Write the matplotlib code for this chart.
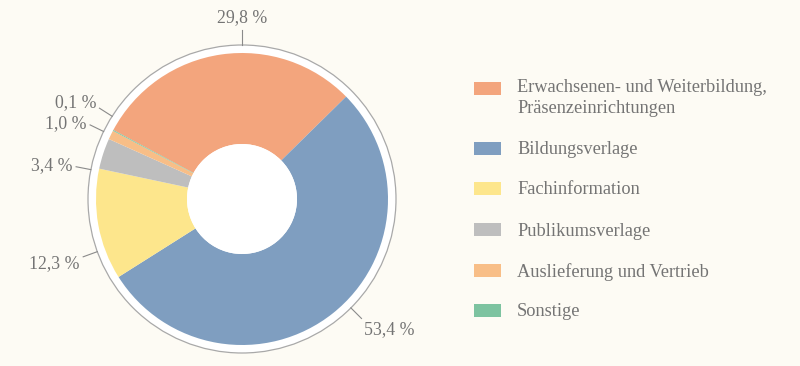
import matplotlib
matplotlib.use("Agg")
import matplotlib.pyplot as plt
from matplotlib.patches import Circle, Rectangle
import numpy as np

categories = ["Erwachsenen- und Weiterbildung,\nPräsenzeinrichtungen", "Bildungsverlage",
              "Fachinformation", "Publikumsverlage", "Auslieferung und Vertrieb", "Sonstige"]
values = [29.8, 53.4, 12.3, 3.4, 1.0, 0.1]
value_labels = ["29,8 %", "53,4 %", "12,3 %", "3,4 %", "1,0 %", "0,1 %"]
colors = ["#F3A57D", "#7F9EC0", "#FDE68C", "#BEBEBE", "#F8BE87", "#7DC3A0"]

# layout (pixels, y measured from top)
W, H = 800, 366
cx, cy = 242, 366 - 199
R_out, R_in, R_ring = 146, 55, 154
label_angles = [90, -45, 200, 169, 154, 147.5]
label_dy = [0, 0, -5, 0, 0, 3]
bg = "#FDFBF4"
txt_col = "#747474"
font = "Liberation Serif"

fig = plt.figure(figsize=(W / 100, H / 100), dpi=100, facecolor=bg)
ax = fig.add_axes([0, 0, 1, 1])
ax.set_facecolor(bg)

ax.add_patch(Circle((cx, cy), R_ring, facecolor="white", edgecolor="#A9A9A9", lw=0.9, zorder=1))
wedges, _ = ax.pie(values, colors=colors, startangle=151.8, counterclock=False,
                   center=(cx, cy), radius=R_out, wedgeprops=dict(width=R_out - R_in, lw=0))
for w in wedges:
    w.set_zorder(2)
ax.add_patch(Circle((cx, cy), R_in, facecolor="white", edgecolor="none", zorder=3))

for lab, ang, dy in zip(value_labels, label_angles, label_dy):
    a = np.deg2rad(ang)
    c, s = np.cos(a), np.sin(a)
    r0, r1 = R_ring, R_ring + 15
    ax.plot([cx + r0 * c, cx + r1 * c], [cy + r0 * s, cy + r1 * s], color="#8A8A8A", lw=0.8, zorder=4)
    tx, ty = cx + (r1 + 4) * c, cy + (r1 + 4) * s + dy
    if c < -0.3:
        ha, va = "right", "center"
    elif c > 0.3:
        ha, va = "left", "top"
    else:
        ha, va = "center", "bottom"
    ax.text(tx, ty, lab, ha=ha, va=va, fontsize=12.8, color=txt_col, family=font, zorder=5)

# legend
patch_y = [88, 148, 188, 229, 270, 310]
text_y = [98, 148, 188, 229, 270, 310]
for py, tyy, col, cat in zip(patch_y, text_y, colors, categories):
    ax.add_patch(Rectangle((474, H - py - 6.5), 27, 13, facecolor=col, edgecolor="none"))
    ax.text(517, H - tyy, cat, ha="left", va="center_baseline" if "\n" not in cat else "center",
            fontsize=13.2, color=txt_col, family=font, linespacing=1.3)

ax.set_xlim(0, W)
ax.set_ylim(0, H)
ax.set_aspect("equal")
ax.axis("off")
fig.savefig("out.png", dpi=100, facecolor=bg)
